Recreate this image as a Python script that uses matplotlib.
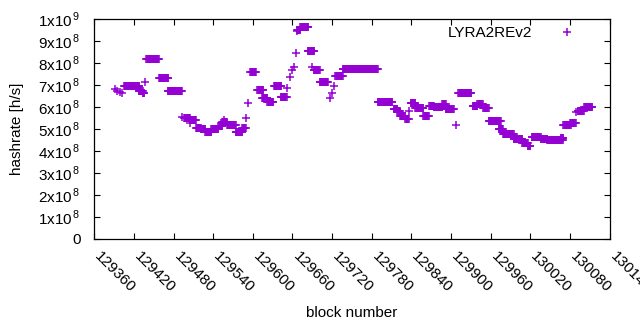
#!/usr/bin/env python3

import numpy as np
import matplotlib
matplotlib.use("Agg")
import matplotlib.pyplot as plt
from matplotlib.ticker import FuncFormatter, MultipleLocator

plt.rcParams['font.family'] = ['Liberation Sans', 'DejaVu Sans']
plt.rcParams['mathtext.fontset'] = 'custom'
plt.rcParams['mathtext.rm'] = 'Liberation Sans'

algo = 'LYRA2REv2'

# runs of blocks that share one hashrate value (start block, end block, h/s)
seg_start = [129405, 129427, 129433, 129439, 129458, 129471, 129496, 129505,
             129514, 129521, 129528, 129537, 129548, 129554, 129561, 129574,
             129584, 129596, 129607, 129614, 129622, 129632, 129642, 129667,
             129672, 129683, 129692, 129701, 129725, 129736, 129789, 129813,
             129819, 129823, 129831, 129839, 129846, 129858, 129867, 129874,
             129887, 129892, 129911, 129933, 129940, 129949, 129957, 129972,
             129979, 129995, 130008, 130016, 130022, 130036, 130046, 130066,
             130070, 130080, 130092, 130102]
seg_end = [129428, 129433, 129436, 129458, 129472, 129493, 129505, 129514,
           129521, 129528, 129537, 129548, 129554, 129561, 129574, 129584,
           129589, 129605, 129616, 129622, 129631, 129643, 129651, 129672,
           129684, 129693, 129701, 129714, 129736, 129789, 129811, 129819,
           129823, 129831, 129836, 129846, 129858, 129866, 129874, 129887,
           129892, 129904, 129931, 129940, 129948, 129957, 129975, 129979,
           129995, 130008, 130016, 130020, 130036, 130046, 130069, 130070,
           130081, 130089, 130101, 130114]
seg_rate = [6.94e8, 6.75e8, 6.65e8, 8.17e8, 7.30e8, 6.71e8, 5.50e8, 5.40e8,
            5.05e8, 4.98e8, 4.85e8, 5.00e8, 5.13e8, 5.30e8, 5.18e8, 4.88e8,
            5.06e8, 7.58e8, 6.77e8, 6.42e8, 6.24e8, 6.95e8, 6.47e8, 9.50e8,
            9.62e8, 8.55e8, 7.68e8, 7.15e8, 7.41e8, 7.71e8, 6.21e8, 5.90e8,
            5.80e8, 5.60e8, 5.44e8, 6.20e8, 5.94e8, 5.60e8, 6.06e8, 6.00e8,
            6.14e8, 5.90e8, 6.62e8, 6.03e8, 6.14e8, 5.94e8, 5.38e8, 4.99e8,
            4.76e8, 4.55e8, 4.38e8, 4.23e8, 4.62e8, 4.53e8, 4.49e8, 4.60e8,
            5.18e8, 5.26e8, 5.82e8, 5.99e8]

# single blocks standing on their own
pt_block = [129392, 129395, 129399, 129402, 129437, 129493, 129505, 129557,
            129589, 129593, 129652, 129657, 129660, 129663, 129666, 129667,
            129689, 129717, 129720, 129723, 129836, 129908, 130090]
pt_rate = [6.82e8, 6.75e8, 6.68e8, 6.64e8, 7.12e8, 5.55e8, 5.28e8, 5.40e8,
           5.49e8, 6.17e8, 6.88e8, 7.38e8, 7.68e8, 7.83e8, 8.44e8, 9.45e8,
           7.80e8, 6.40e8, 6.64e8, 6.95e8, 5.80e8, 5.18e8, 5.79e8]

blocks = list(pt_block)
rates = list(pt_rate)
for s, e, r in zip(seg_start, seg_end, seg_rate):
    run = np.arange(s, e + 1)
    blocks.extend(run)
    rates.extend([r] * len(run))


def sci(v, pos):
    if v <= 0:
        return '0'
    exp = int(np.floor(np.log10(v) + 1e-9))
    mant = int(round(v / 10 ** exp))
    return r'%dx10$^{\,%d}$' % (mant, exp)


fig = plt.figure(figsize=(6.4, 3.3), dpi=100)
ax = fig.add_axes([94.3 / 640, 1 - 239 / 330, 515.2 / 640, 220 / 330])

ax.plot(blocks, rates, '+', color='#9400d3', markersize=5.4, mew=1.1,
        label=algo)

ax.set_xlim(129360, 130140)
ax.set_ylim(0, 1e9)
ax.xaxis.set_major_locator(MultipleLocator(60))
ax.yaxis.set_major_locator(MultipleLocator(1e8))
ax.yaxis.set_major_formatter(FuncFormatter(sci))
ax.tick_params(direction='in', length=4, width=0.8, top=True, right=True,
               labelsize=11, colors='black')
ax.tick_params(axis='y', pad=10)
# rotated labels hang from the tick, like gnuplot's "rotate by -45"
plt.setp(ax.get_xticklabels(), rotation=-45, ha='left', va='baseline',
         rotation_mode='anchor')
ax.tick_params(axis='x', pad=13)
for sp in ax.spines.values():
    sp.set_linewidth(0.9)

ax.set_xlabel('block number', fontsize=11, labelpad=8)
ax.set_ylabel('hashrate [h/s]', fontsize=11, labelpad=10)

ax.legend(loc='upper right', bbox_to_anchor=(0.962, 0.995), frameon=False,
          markerfirst=False, fontsize=11, handlelength=2.2,
          handletextpad=1.2, borderaxespad=0)

fig.savefig('out.png', dpi=100)
